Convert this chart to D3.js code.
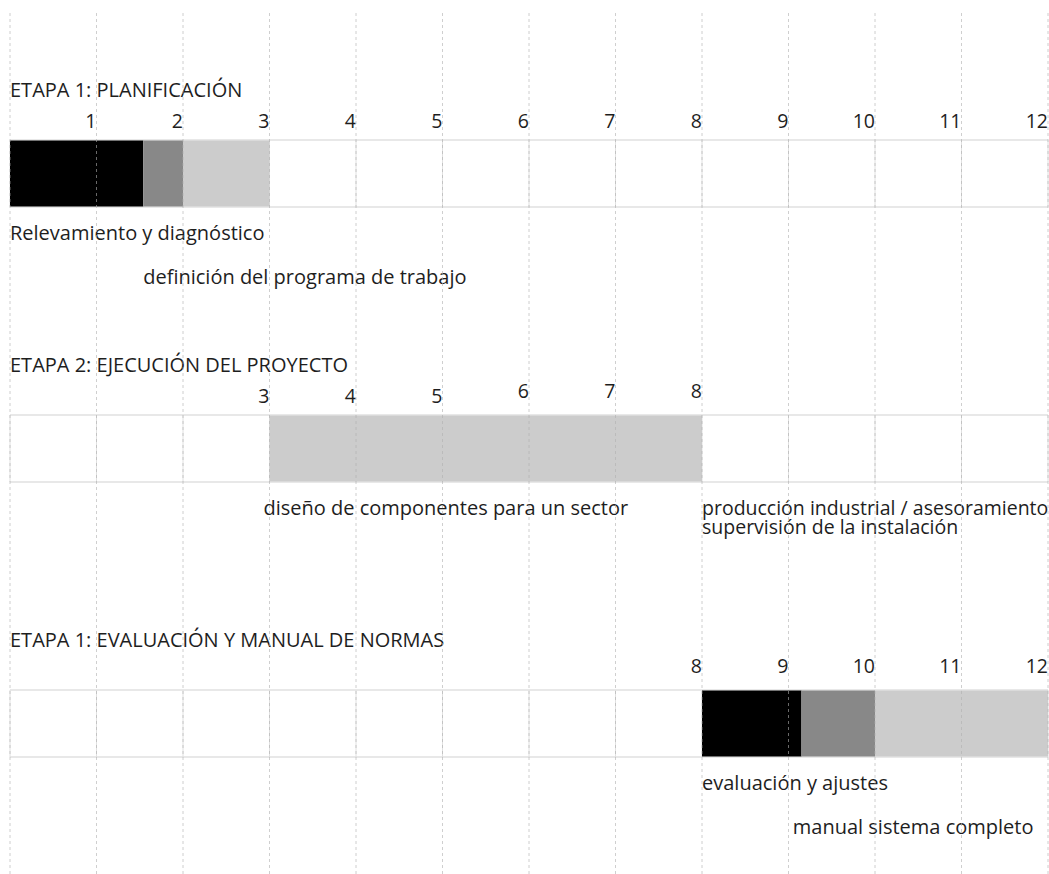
<!DOCTYPE html>
<html>
<head>
<meta charset="utf-8">
<script src="https://cdn.jsdelivr.net/npm/d3@7/dist/d3.min.js"></script>
<style>
  html, body { margin: 0; padding: 0; background: #fff; }
  svg { display: block; }
  text { font-family: "Open Sans", "Noto Sans", sans-serif; fill: #1e1e1e; }
</style>
</head>
<body>
<div id="chart"></div>
<script>
const WIDTH = 1049;
const HEIGHT = 874;

// months of the schedule
const months = d3.range(0, 13);

// stage titles (as printed in the original)
const stageTitles = [
  'ETAPA 1: PLANIFICACIÓN',
  'ETAPA 2: EJECUCIÓN DEL PROYECTO',
  'ETAPA 1: EVALUACIÓN Y MANUAL DE NORMAS'
];

// month numbers shown above each band
const stageTicks = [
  [1, 2, 3, 4, 5, 6, 7, 8, 9, 10, 11, 12],
  [3, 4, 5, 6, 7, 8],
  [8, 9, 10, 11, 12]
];

// bar segments: [start month, end month, tone]
const stage1Segments = [[0, 1.54, 'black'], [1.54, 2, 'dark'], [2, 3, 'light']];
const stage2Segments = [[3, 8, 'light']];
const stage3Segments = [[8, 9.15, 'black'], [9.15, 10, 'dark'], [10, 12, 'light']];

// activity labels: [text lines, start month, row]
const stage1Labels = [[['Relevamiento y diagnóstico'], 0, 0], [['definición del programa de trabajo'], 1.54, 1]];
const stage2Labels = [
  [['diseño de componentes para un sector'], 2.93, 0],
  [['producción industrial / asesoramiento', 'supervisión de la instalación'], 8, 0]
];
const stage3Labels = [[['evaluación y ajustes'], 8, 0], [['manual sistema completo'], 9.05, 1]];

const segments = [stage1Segments, stage2Segments, stage3Segments];
const labels = [stage1Labels, stage2Labels, stage3Labels];

const tone = { black: '#000000', dark: '#888888', light: '#cccccc' };

const x = d3.scaleLinear().domain([0, 12]).range([10, 1048]);

const BAND_TOP = 140, BAND_STEP = 275, BAND_H = 67;

const svg = d3.select('#chart').append('svg')
  .attr('width', WIDTH)
  .attr('height', HEIGHT);

stageTitles.forEach((title, i) => {
  const top = BAND_TOP + i * BAND_STEP;
  const g = svg.append('g').attr('class', 'stage');

  // band frame + solid month dividers
  g.append('g').selectAll('line')
    .data(months)
    .join('line')
    .attr('x1', d => x(d)).attr('x2', d => x(d))
    .attr('y1', top).attr('y2', top + BAND_H)
    .attr('stroke', '#e0e0e0').attr('stroke-width', 1);

  g.append('g').selectAll('line')
    .data([top, top + BAND_H])
    .join('line')
    .attr('x1', x(0)).attr('x2', x(12))
    .attr('y1', d => d).attr('y2', d => d)
    .attr('stroke', '#e0e0e0').attr('stroke-width', 1.5);

  // bars
  g.append('g').selectAll('rect')
    .data(segments[i])
    .join('rect')
    .attr('x', d => x(d[0]))
    .attr('width', d => x(d[1]) - x(d[0]))
    .attr('y', top + 0.5)
    .attr('height', BAND_H - 1)
    .attr('fill', d => tone[d[2]]);

  // title
  g.append('text')
    .attr('x', x(0))
    .attr('y', top - 43)
    .attr('font-size', 20)
    .text(title);

  // month numbers, right aligned on the month line
  g.append('g').selectAll('text')
    .data(stageTicks[i])
    .join('text')
    .attr('x', d => x(d))
    .attr('y', d => top - 12 - ((i === 1 && d > 5) || i === 2 ? 5 : 0))
    .attr('text-anchor', 'end')
    .attr('font-size', 19.5)
    .text(d => d);

  // activity labels
  const lab = g.append('g').selectAll('text')
    .data(labels[i])
    .join('text')
    .attr('x', d => x(d[1]))
    .attr('y', d => top + BAND_H + 33 + d[2] * 44)
    .attr('font-size', d => (d[0].length > 1 ? 19.5 : 20));
  lab.selectAll('tspan')
    .data(d => d[0].map((t, k) => ({ t, k, x: x(d[1]) })))
    .join('tspan')
    .attr('x', d => d.x)
    .attr('dy', d => (d.k === 0 ? 0 : 19))
    .text(d => d.t);
});

// dashed month grid on top of everything
svg.append('g').selectAll('line')
  .data(months)
  .join('line')
  .attr('x1', d => x(d)).attr('x2', d => x(d))
  .attr('y1', 13).attr('y2', HEIGHT)
  .attr('stroke', 'rgba(175,175,175,0.6)')
  .attr('stroke-width', 1)
  .attr('stroke-dasharray', '3,3');
</script>
</body>
</html>
